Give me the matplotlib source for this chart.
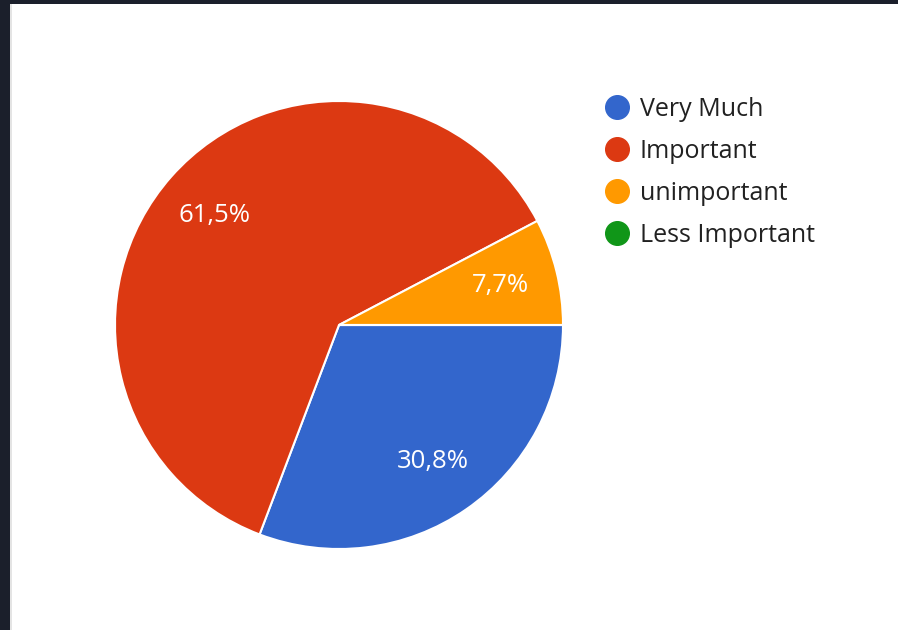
import matplotlib
matplotlib.use("Agg")
from matplotlib import pyplot as plt
from matplotlib.lines import Line2D
from matplotlib.patches import Rectangle

plt.rcParams['font.family'] = ['Open Sans', 'DejaVu Sans']

# 数据
categories = ['Very Much', 'Important', 'unimportant', 'Less Important']
counts = [4, 8, 1, 0]
colors = ['#3366cc', '#dc3912', '#ff9900', '#109618']

fig = plt.figure(figsize=(8.98, 6.30), dpi=100)
fig.patch.set_facecolor('white')

# 截图的深色边框
fig.patches.append(Rectangle((0, 0), 10 / 898, 1, transform=fig.transFigure,
                             facecolor='#1b1f2b', edgecolor='none', zorder=0))
fig.patches.append(Rectangle((10 / 898, 0), 2 / 898, 1, transform=fig.transFigure,
                             facecolor='#e4e4e4', edgecolor='none', zorder=0))
fig.patches.append(Rectangle((0, 1 - 4 / 630), 1, 4 / 630, transform=fig.transFigure,
                             facecolor='#1b1f2b', edgecolor='none', zorder=0))

ax = fig.add_axes([115 / 898, 81 / 630, 448 / 898, 448 / 630])
wedges, texts, autotexts = ax.pie(
    counts, colors=colors, startangle=0, counterclock=False, radius=1,
    autopct=lambda p: ('%.1f%%' % p).replace('.', ',') if p > 0 else '',
    pctdistance=0.74,
    wedgeprops=dict(edgecolor='white', linewidth=1.5),
    textprops=dict(color='white', fontsize=18.5))
ax.set_xlim(-1, 1)
ax.set_ylim(-1, 1)
ax.set_aspect('equal')
ax.axis('off')

handles = [Line2D([], [], linestyle='none', marker='o', markersize=17,
                  markerfacecolor=c, markeredgecolor=c) for c in colors]
fig.legend(handles, categories, loc='upper left',
           bbox_to_anchor=(592 / 898, 1 - 87 / 630), frameon=False,
           fontsize=18, labelspacing=0.68, handletextpad=0.3,
           handlelength=1.2, borderaxespad=0, labelcolor='#212121')

fig.savefig('out.png', dpi=100)
